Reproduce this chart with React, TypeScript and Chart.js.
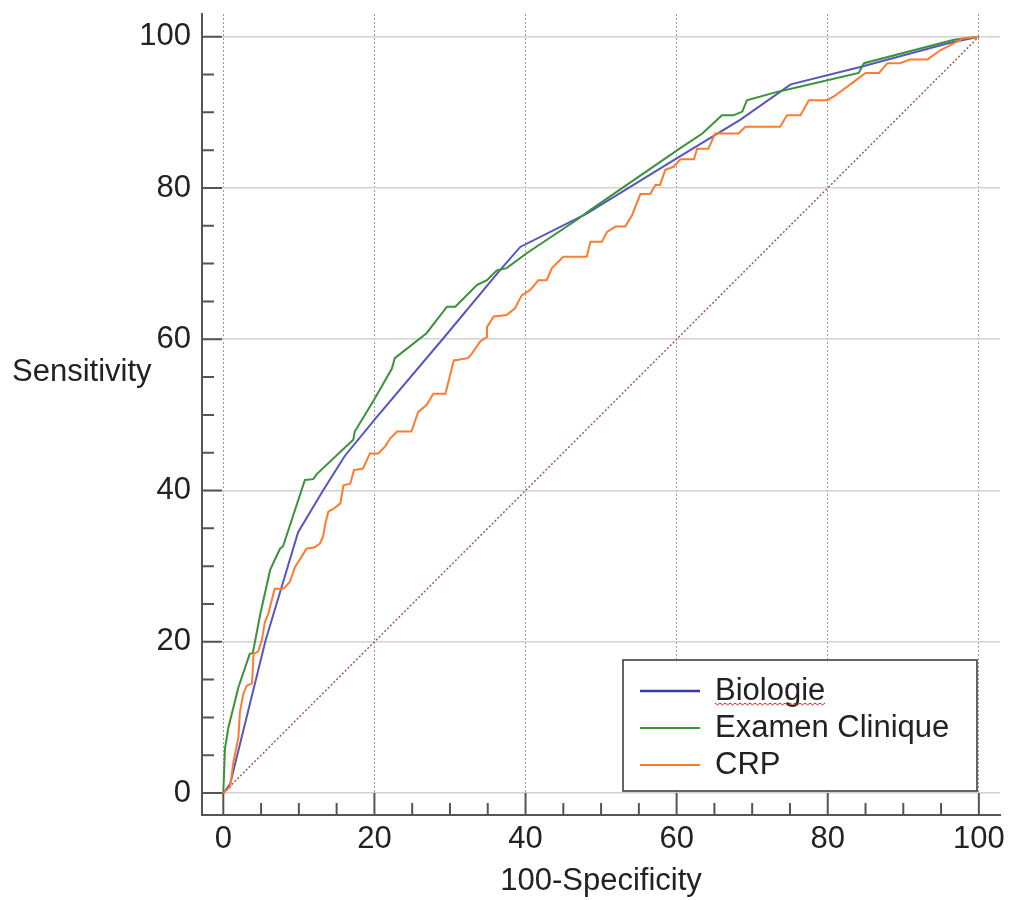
import { useEffect, useRef } from "react";
import { Chart, registerables } from "chart.js";

Chart.register(...registerables);

// ---- data ----
const majorTicks = [0, 20, 40, 60, 80, 100];
const minorTicks = [5, 10, 15, 25, 30, 35, 45, 50, 55, 65, 70, 75, 85, 90, 95];
const seriesLabels = ["Biologie", "Examen Clinique", "CRP"];

const biologieX = [0, 0.9, 5.6, 9.9, 13.2, 16.1, 20.3, 29.1, 36.6, 39.3, 48.1, 60.0, 68.4, 75.1, 84.3, 96.2, 100];
const biologieY = [0, 1.2, 20.2, 34.5, 40.0, 44.6, 49.7, 60.1, 69.1, 72.2, 76.6, 83.9, 89.0, 93.7, 96.0, 99.2, 100];

const examenX = [0, 0.22, 0.66, 2.0, 3.5, 3.9, 4.9, 6.2, 7.5, 7.9, 10.8, 11.9, 12.4, 17.2, 17.4, 19.9, 22.3, 22.7, 26.9, 29.6, 30.7, 33.6, 34.9, 36.2, 37.5, 40.2, 46.8, 48.6, 60.1, 63.4, 66.0, 67.5, 68.7, 69.3, 73.3, 84.1, 84.8, 96.7, 100];
const examenY = [0, 5.9, 8.6, 14.0, 18.4, 18.5, 23.7, 29.5, 32.3, 32.6, 41.4, 41.5, 42.2, 46.7, 47.8, 51.9, 56.1, 57.5, 60.8, 64.3, 64.3, 67.2, 67.8, 69.1, 69.4, 71.4, 75.8, 77.1, 85.0, 87.2, 89.6, 89.6, 90.1, 91.6, 92.7, 95.2, 96.5, 99.6, 100];

const crpX = [0, 0.9, 1.3, 2.0, 2.2, 2.65, 3.1, 3.8, 4.0, 4.6, 5.1, 5.5, 5.96, 6.8, 7.95, 8.8, 9.5, 10.2, 11.0, 12.1, 12.8, 13.2, 13.5, 13.9, 14.6, 15.5, 15.9, 16.8, 17.3, 18.5, 19.4, 20.5, 21.4, 22.1, 23.0, 24.9, 25.8, 26.9, 27.8, 29.4, 30.5, 32.4, 32.9, 34.0, 34.9, 34.9, 35.8, 37.5, 38.6, 39.5, 40.6, 41.7, 42.8, 43.5, 45.0, 48.1, 48.6, 50.1, 50.8, 51.9, 53.2, 54.1, 55.2, 56.5, 57.2, 57.8, 58.5, 59.6, 60.5, 62.3, 62.7, 64.2, 65.1, 68.2, 69.1, 73.7, 74.6, 76.4, 77.5, 79.9, 80.8, 83.4, 85.0, 86.8, 87.9, 89.6, 90.9, 93.2, 94.9, 98.0, 100];
const crpY = [0, 0.8, 3.9, 7.4, 10.7, 13.1, 14.2, 14.5, 18.4, 18.7, 20.2, 22.6, 23.7, 27.0, 27.0, 27.9, 29.9, 31.0, 32.3, 32.5, 33.0, 33.9, 35.6, 37.2, 37.6, 38.3, 40.7, 40.9, 42.7, 42.9, 44.9, 44.9, 45.8, 46.9, 47.8, 47.8, 50.4, 51.3, 52.8, 52.8, 57.2, 57.5, 58.1, 59.7, 60.3, 61.6, 63.0, 63.2, 64.1, 65.8, 66.5, 67.8, 67.8, 69.4, 70.9, 70.9, 72.9, 72.9, 74.2, 74.9, 74.9, 76.4, 79.2, 79.2, 80.4, 80.4, 82.4, 82.8, 83.8, 83.8, 85.2, 85.2, 87.2, 87.2, 88.1, 88.1, 89.6, 89.6, 91.6, 91.6, 92.1, 94.0, 95.2, 95.2, 96.5, 96.5, 97.0, 97.0, 98.2, 99.8, 100];

const diagonalX = [0, 100];
const diagonalY = [0, 100];

const xTitle = "100-Specificity";
const yTitle = "Sensitivity";

// ---- styles ----
const FONT = '"Liberation Sans", Arial, sans-serif';
const FONT_SIZE = 31;
const TEXT = "#222222";
const AXIS = "#555555";
const COLORS = ["#5656c2", "#3a923a", "#ff7b2e"];
const LEGEND_COLORS = ["#3a3aa6", "#3a923a", "#ff7b2e"];
const LEGEND_WIDTHS = [2.5, 2, 2];

const pts = (xs: number[], ys: number[]) => xs.map((x, i) => ({ x, y: ys[i] }));

const tickMarksPlugin = {
  id: "tickMarks",
  beforeDatasetsDraw(chart: any) {
    const { ctx, chartArea, scales } = chart;
    const x = scales.x;
    const y = scales.y;
    ctx.save();
    ctx.strokeStyle = AXIS;
    ctx.lineWidth = 2;
    ctx.beginPath();
    const all = [...majorTicks.map((v) => [v, 1]), ...minorTicks.map((v) => [v, 0])];
    for (const [v, major] of all) {
      const px = x.getPixelForValue(v);
      ctx.moveTo(px, chartArea.bottom);
      ctx.lineTo(px, chartArea.bottom - (major ? 22 : 12));
      const py = y.getPixelForValue(v);
      ctx.moveTo(chartArea.left, py);
      ctx.lineTo(chartArea.left + (major ? 20 : 12), py);
    }
    ctx.stroke();
    ctx.restore();
  },
};

const legendBoxPlugin = {
  id: "legendBox",
  afterDraw(chart: any) {
    const { ctx, chartArea } = chart;
    const right = chartArea.right - 23;
    const bottom = chartArea.bottom - 24;
    const w = 354;
    const h = 131;
    const left = right - w;
    const top = bottom - h;
    ctx.save();
    ctx.fillStyle = "#ffffff";
    ctx.fillRect(left, top, w, h);
    ctx.strokeStyle = "#333333";
    ctx.lineWidth = 1.5;
    ctx.strokeRect(left, top, w, h);
    ctx.font = `${FONT_SIZE}px ${FONT}`;
    ctx.textAlign = "left";
    ctx.textBaseline = "middle";
    seriesLabels.forEach((label, i) => {
      const yy = top + 31 + i * 37;
      ctx.strokeStyle = LEGEND_COLORS[i];
      ctx.lineWidth = LEGEND_WIDTHS[i];
      ctx.beginPath();
      ctx.moveTo(left + 17, yy);
      ctx.lineTo(left + 77, yy);
      ctx.stroke();
      ctx.fillStyle = TEXT;
      ctx.fillText(label, left + 92, yy);
      if (i === 0) {
        // spell-check squiggle seen under "Biologie"
        const tw = ctx.measureText(label).width;
        ctx.strokeStyle = "#e02020";
        ctx.lineWidth = 1;
        ctx.beginPath();
        const base = yy + 12;
        let k = 0;
        for (let xx = left + 92; xx <= left + 92 + tw; xx += 2.5, k++) {
          const yv = base + (k % 2 === 0 ? 0 : 2);
          if (k === 0) ctx.moveTo(xx, yv);
          else ctx.lineTo(xx, yv);
        }
        ctx.stroke();
      }
    });
    ctx.restore();
  },
};

const yTitlePlugin = {
  id: "yTitle",
  afterDraw(chart: any) {
    const { ctx } = chart;
    ctx.save();
    ctx.font = `${FONT_SIZE}px ${FONT}`;
    ctx.fillStyle = TEXT;
    ctx.textAlign = "left";
    ctx.textBaseline = "middle";
    ctx.fillText(yTitle, 12, 372);
    ctx.restore();
  },
};

export default function App() {
  const ref = useRef<HTMLCanvasElement>(null);

  useEffect(() => {
    if (!ref.current) return;
    const chart = new Chart(ref.current, {
      type: "line",
      data: {
        datasets: [
          {
            label: seriesLabels[0],
            data: pts(biologieX, biologieY),
            borderColor: COLORS[0],
            borderWidth: 2,
            order: 2,
          },
          {
            label: seriesLabels[1],
            data: pts(examenX, examenY),
            borderColor: COLORS[1],
            borderWidth: 2,
            order: 1,
          },
          {
            label: seriesLabels[2],
            data: pts(crpX, crpY),
            borderColor: COLORS[2],
            borderWidth: 2,
            order: 0,
          },
          {
            label: "diagonal",
            data: pts(diagonalX, diagonalY),
            borderColor: "#a85858",
            borderWidth: 1.5,
            borderDash: [2, 2],
            order: 3,
          },
        ],
      },
      options: {
        animation: false,
        responsive: true,
        maintainAspectRatio: false,
        layout: { padding: { top: 14, right: 10, left: 0, bottom: 0 } },
        plugins: {
          legend: { display: false },
          tooltip: { enabled: false },
        },
        elements: {
          point: { radius: 0, hoverRadius: 0 },
          line: { tension: 0, fill: false },
        },
        scales: {
          x: {
            type: "linear",
            min: -2.82,
            max: 102.8,
            afterBuildTicks: (s: any) => {
              s.ticks = majorTicks.map((v) => ({ value: v }));
            },
            afterFit: (s: any) => {
              s.height = 85;
              s.paddingLeft = 0;
              s.paddingRight = 0;
            },
            grid: { color: "#9a9a9a", lineWidth: 1, drawTicks: false },
            border: { color: AXIS, width: 2, dash: [2, 2] },
            ticks: {
              padding: 6,
              color: TEXT,
              font: { family: FONT, size: FONT_SIZE },
              maxRotation: 0,
              callback: (v: any) => String(v),
            },
            title: {
              display: true,
              text: xTitle,
              color: TEXT,
              font: { family: FONT, size: FONT_SIZE },
              padding: 0,
            },
          },
          y: {
            type: "linear",
            min: -2.9,
            max: 103,
            afterBuildTicks: (s: any) => {
              s.ticks = majorTicks.map((v) => ({ value: v }));
            },
            afterFit: (s: any) => {
              s.width = 202;
              s.paddingTop = 0;
              s.paddingBottom = 0;
            },
            grid: { color: "#d2d2d2", lineWidth: 1.5, drawTicks: false },
            border: { color: AXIS, width: 2 },
            ticks: {
              padding: 11,
              color: TEXT,
              font: { family: FONT, size: FONT_SIZE },
              callback: (v: any) => String(v),
            },
          },
        },
      },
      plugins: [tickMarksPlugin, legendBoxPlugin, yTitlePlugin],
    });
    return () => chart.destroy();
  }, []);

  return (
    <div
      style={{
        position: "fixed",
        left: 0,
        top: 0,
        width: 1010,
        height: 900,
        background: "#ffffff",
      }}
    >
      <canvas ref={ref} />
    </div>
  );
}
